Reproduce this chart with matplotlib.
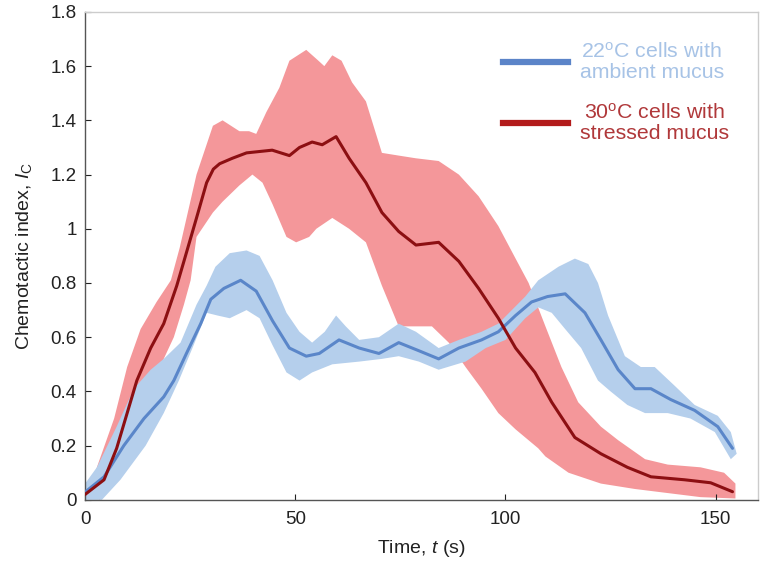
"""
chemotaxis_plot.py -- chemotactic index over time for the two mucus conditions.

Mean curve plus a shaded spread band for each condition, values read off
the published figure.
"""

import numpy as np
import matplotlib
matplotlib.use("Agg")
import matplotlib.pyplot as plt

OUT_PATH = "out.png"

# 30 C cells with stressed mucus
RED_T = [0, 0.5, 4.5, 7.5, 10, 12.3, 15.6, 18.7, 21.8, 23.5, 26.5, 28.9,
         30.5, 32, 35, 38.4, 44.5, 48.6, 51, 54, 56.4, 59.7, 62.8, 66.8, 70.6,
         74.6, 78.7, 84.1, 88.9, 93.6, 98.3, 102.4, 107, 111, 116.5, 122.7,
         129, 134.6, 142.6, 148.8, 154]
RED_MEAN = [0.02, 0.026, 0.074, 0.19, 0.32, 0.44, 0.56, 0.65, 0.79, 0.88,
            1.04, 1.17, 1.22, 1.24, 1.26, 1.28, 1.29, 1.27, 1.30, 1.32, 1.31,
            1.34, 1.26, 1.17, 1.06, 0.99, 0.94, 0.95, 0.88, 0.78, 0.67, 0.56,
            0.47, 0.36, 0.23, 0.17, 0.12, 0.085, 0.074, 0.063, 0.03]

RED_UP_T = [1, 2.8, 6.9, 10, 13.2, 17, 20.4, 22.5, 26.5, 30.4, 32.7, 36.7, 39,
            40.7, 43.1, 46.2, 48.6, 52.6, 55.5, 56.9, 58.8, 61, 63.5, 66.8,
            70.6, 74.6, 78.7, 84.1, 88.9, 93.6, 98.3, 102.4, 105.5, 109.5,
            113.3, 117.3, 122.7, 126.8, 133.2, 138.6, 146.4, 152, 154.7]
RED_UP = [0.03, 0.12, 0.30, 0.49, 0.63, 0.73, 0.81, 0.93, 1.20, 1.38, 1.40,
          1.36, 1.36, 1.35, 1.43, 1.52, 1.62, 1.66, 1.62, 1.60, 1.64, 1.62,
          1.54, 1.47, 1.28, 1.27, 1.26, 1.25, 1.20, 1.12, 1.01, 0.89, 0.80,
          0.64, 0.49, 0.36, 0.27, 0.22, 0.15, 0.13, 0.12, 0.10, 0.06]

RED_LO_T = [3.5, 10, 18.7, 21.1, 23.5, 25.1, 26.5, 30.4, 32.7, 36.7, 39.8,
            42.2, 44.6, 47.9, 50.2, 53.3, 55, 58.8, 62.8, 66.8, 70.6, 74.6,
            78.7, 82.5, 86.5, 90.5, 94.3, 98.3, 102.4, 107.8, 109.5, 115,
            122.7, 130.8, 138.6, 146.4, 154.7]
RED_LO = [0.0, 0.20, 0.52, 0.60, 0.72, 0.81, 0.97, 1.06, 1.10, 1.16, 1.20,
          1.17, 1.09, 0.97, 0.95, 0.97, 1.0, 1.04, 1.0, 0.95, 0.79, 0.64,
          0.64, 0.64, 0.58, 0.49, 0.41, 0.32, 0.26, 0.19, 0.16, 0.10, 0.06,
          0.04, 0.025, 0.01, 0.005]

# 22 C cells with ambient mucus
BLUE_T = [0, 0.5, 4.5, 9.2, 14, 18.7, 21.1, 24.1, 27.5, 29.9, 33, 37,
          40.7, 44.6, 48.6, 52.6, 55.7, 60.4, 65.2, 69.9, 74.6, 79.4, 84.1,
          88.9, 94.3, 98.3, 102.4, 106.2, 110, 114.2, 118.9, 122.7, 126.8,
          130.8, 134.6, 139.3, 145, 150.5, 154]
BLUE_MEAN = [0.03, 0.035, 0.085, 0.20, 0.30, 0.38, 0.44, 0.54, 0.65, 0.74,
             0.78, 0.81, 0.77, 0.66, 0.56, 0.53, 0.54, 0.59, 0.56, 0.54, 0.58,
             0.55, 0.52, 0.56, 0.59, 0.62, 0.68, 0.73, 0.75, 0.76, 0.69, 0.59,
             0.48, 0.41, 0.41, 0.37, 0.33, 0.27, 0.19]

BLUE_UP_T = [0, 2.8, 7.5, 11.6, 15.6, 18.7, 22.7, 26.5, 28.9, 31, 34.4, 38.4,
             41.5, 44.6, 47.9, 51, 54, 57, 59.7, 62, 65.2, 69.9, 74.6, 78.7,
             84.1, 88.9, 94.3, 98.3, 104.7, 107.8, 112.6, 116.5, 119.7, 122,
             124.4, 128.4, 132.2, 135.5, 140.3, 145, 150.5, 153.6, 155]
BLUE_UP = [0.06, 0.12, 0.27, 0.41, 0.48, 0.52, 0.58, 0.72, 0.79, 0.86, 0.91,
           0.92, 0.90, 0.81, 0.69, 0.62, 0.58, 0.62, 0.68, 0.64, 0.59, 0.60,
           0.65, 0.62, 0.56, 0.59, 0.62, 0.65, 0.75, 0.81, 0.86, 0.89, 0.87,
           0.80, 0.68, 0.53, 0.49, 0.49, 0.42, 0.35, 0.31, 0.25, 0.17]

BLUE_LO_T = [0, 4, 8.4, 14.4, 18.7, 22.3, 25.8, 28.9, 31.5, 34.4, 38.4, 41.5,
             44.6, 47.9, 51, 54, 58.8, 65.2, 70.6, 74.6, 79.4, 84.1, 90.5,
             95.3, 100, 104.7, 107.8, 111, 114.2, 118, 122, 125, 129, 133.2,
             138.6, 144, 149.8, 153.6]
BLUE_LO = [0.0, 0.0, 0.074, 0.20, 0.32, 0.44, 0.57, 0.69, 0.68, 0.67, 0.70,
           0.67, 0.57, 0.47, 0.44, 0.47, 0.50, 0.51, 0.52, 0.53, 0.51, 0.48,
           0.51, 0.56, 0.59, 0.67, 0.71, 0.69, 0.63, 0.56, 0.44, 0.40, 0.35,
           0.32, 0.32, 0.30, 0.25, 0.15]

Y_TICKS = [0, 0.2, 0.4, 0.6, 0.8, 1, 1.2, 1.4, 1.6, 1.8]
Y_TICK_LABELS = ["0", "0.2", "0.4", "0.6", "0.8", "1", "1.2", "1.4", "1.6", "1.8"]
X_TICKS = [0, 50, 100, 150]

RED_FILL = "#f4979a"
RED_LINE = "#8c0f12"
BLUE_FILL = "#b5cfec"
BLUE_LINE = "#5a86c9"


def band(ax, t_up, up, t_lo, lo, color, z):
    """Shaded spread: upper edge left->right, lower edge back right->left."""
    xs = np.concatenate([t_up, t_lo[::-1]])
    ys = np.concatenate([up, lo[::-1]])
    ax.fill(xs, ys, color=color, lw=0, zorder=z)


def main():
    plt.rcParams["font.family"] = ["Liberation Sans", "DejaVu Sans"]
    plt.rcParams["mathtext.fontset"] = "custom"
    plt.rcParams["mathtext.it"] = "Liberation Sans:italic"
    plt.rcParams["mathtext.rm"] = "Liberation Sans"

    fig = plt.figure(figsize=(7.6, 5.68), dpi=100)
    ax = fig.add_axes([0.112, 0.12, 0.885, 0.859])

    band(ax, np.array(RED_UP_T), np.array(RED_UP),
         np.array(RED_LO_T), np.array(RED_LO), RED_FILL, 1)
    band(ax, np.array(BLUE_UP_T), np.array(BLUE_UP),
         np.array(BLUE_LO_T), np.array(BLUE_LO), BLUE_FILL, 2)
    ax.plot(BLUE_T, BLUE_MEAN, color=BLUE_LINE, lw=2.2, zorder=3,
            solid_capstyle="round", solid_joinstyle="round")
    ax.plot(RED_T, RED_MEAN, color=RED_LINE, lw=2.2, zorder=4,
            solid_capstyle="round", solid_joinstyle="round")

    # legend handles are drawn thicker and brighter than the curves
    h_blue, = ax.plot([], [], color="#5b84c8", lw=4.5)
    h_red, = ax.plot([], [], color="#b31b1b", lw=4.5)
    leg = ax.legend([h_blue, h_red],
                    ["22$^{\\rm o}$C cells with\nambient mucus",
                     "30$^{\\rm o}$C cells with\nstressed mucus"],
                    loc="upper left", bbox_to_anchor=(0.6215, 0.938),
                    frameon=False, fontsize=15.3, handlelength=3.05,
                    handletextpad=0.55, labelspacing=1.0,
                    borderpad=0, borderaxespad=0)
    for txt, col in zip(leg.get_texts(), ["#a7c3e6", "#b0383a"]):
        txt.set_color(col)
        txt.set_multialignment("center")
        txt.set_linespacing(1.05)

    ax.set_xlim(0, 160)
    ax.set_ylim(0, 1.8)
    ax.set_xticks(X_TICKS)
    ax.set_yticks(Y_TICKS)
    ax.set_yticklabels(Y_TICK_LABELS)
    ax.tick_params(direction="in", length=4, width=0.8, labelsize=13.5,
                   colors="#222222", pad=8)
    ax.tick_params(axis="y", pad=6)
    for side in ("left", "bottom"):
        ax.spines[side].set_color("#555555")
        ax.spines[side].set_linewidth(1.0)
    for side in ("top", "right"):
        ax.spines[side].set_color("#cccccc")
        ax.spines[side].set_linewidth(1.0)

    ax.set_xlabel("Time, $t$ (s)", fontsize=14, color="#222222", labelpad=7)
    ax.set_ylabel("Chemotactic index, $I_{\\rm C}$", fontsize=14,
                  color="#222222", labelpad=12)

    fig.savefig(OUT_PATH, dpi=100)
    plt.close(fig)


if __name__ == "__main__":
    main()
